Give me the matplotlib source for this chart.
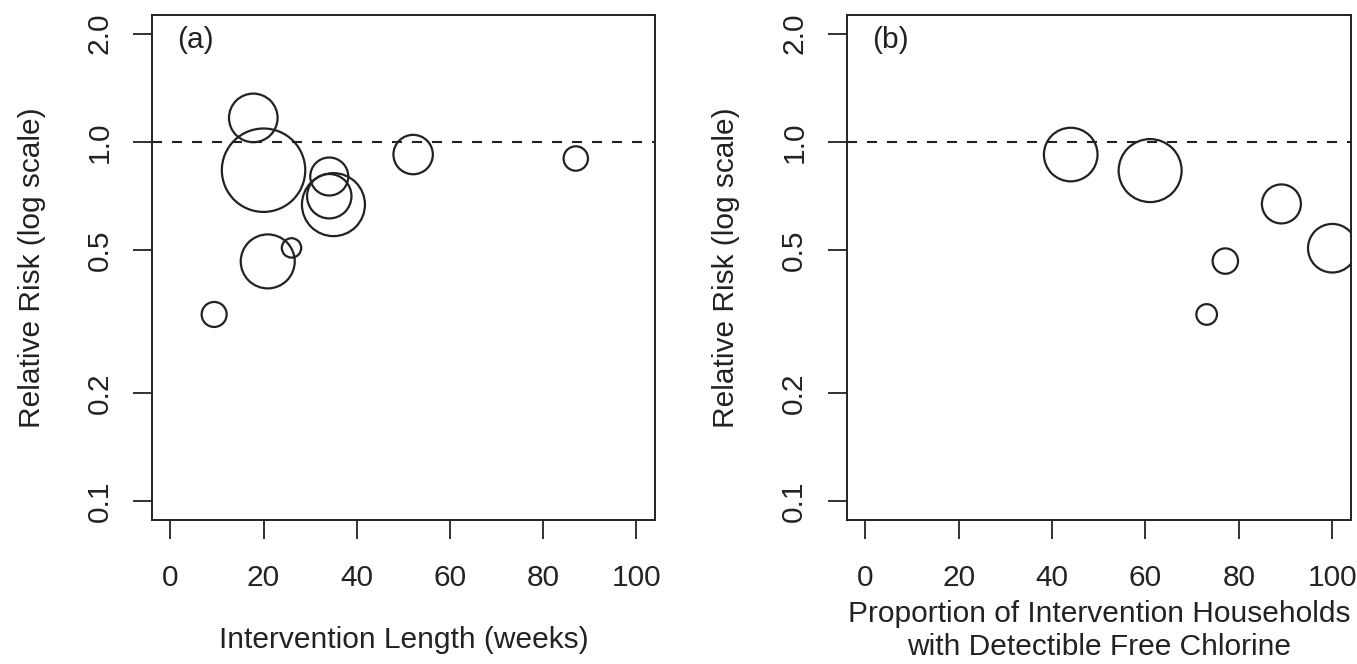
import numpy as np
import matplotlib
matplotlib.use("Agg")
import matplotlib.pyplot as plt
from matplotlib.ticker import FixedLocator, FixedFormatter, NullLocator

plt.rcParams['font.family'] = ['Liberation Sans', 'DejaVu Sans']

# panel (a): intervention length vs relative risk
weeks = [17.8, 20.0, 34.1, 34.1, 35.0, 52.1, 20.9, 26.0, 9.4, 87.0]
rr_a = [1.166, 0.834, 0.801, 0.706, 0.669, 0.922, 0.465, 0.507, 0.331, 0.899]
radius_a = [24.3, 41.7, 19.0, 22.2, 31.5, 19.7, 27.0, 9.7, 12.5, 12.2]

# panel (b): % households with detectable free chlorine vs relative risk
chlorine = [44.0, 61.0, 89.1, 100.0, 77.1, 73.1]
rr_b = [0.922, 0.832, 0.672, 0.506, 0.466, 0.331]
radius_b = [26.8, 31.5, 19.5, 24.3, 12.7, 10.3]

y_ticks = [0.1, 0.2, 0.5, 1.0, 2.0]
y_tick_labels = ["0.1", "0.2", "0.5", "1.0", "2.0"]
x_ticks = [0, 20, 40, 60, 80, 100]

ink = '#222222'
fs = 21.5
W, H = 1357, 664
fig = plt.figure(figsize=(W / 100, H / 100), dpi=100)

ax_a = fig.add_axes([151.7 / W, (H - 520) / H, 503.3 / W, 505 / H])
ax_b = fig.add_axes([846.5 / W, (H - 520) / H, 504.5 / W, 505 / H])


def draw_panel(ax, x, y, radius, tag, xlabel, xlabel_y):
    s = [(1.44 * r) ** 2 for r in radius]
    ax.scatter(x, y, s=s, facecolors='none', edgecolors=ink, linewidths=1.6, zorder=3)
    ax.axhline(1.0, color=ink, lw=1.5, dashes=(4.8, 4.8), zorder=2)
    ax.set_yscale('log')
    ax.set_xlim(-4, 104)
    ax.set_ylim(10 ** -1.052, 10 ** 0.353)
    ax.yaxis.set_major_locator(FixedLocator(y_ticks))
    ax.yaxis.set_major_formatter(FixedFormatter(y_tick_labels))
    ax.yaxis.set_minor_locator(NullLocator())
    ax.set_xticks(x_ticks)
    ax.set_xticklabels([str(t) for t in x_ticks])
    for sp in ax.spines.values():
        sp.set_linewidth(1.4)
        sp.set_color(ink)
    ax.tick_params(axis='both', direction='out', length=13.5, width=1.3,
                   color=ink, labelcolor=ink, labelsize=fs)
    ax.tick_params(axis='x', pad=18)
    ax.tick_params(axis='y', pad=14)
    for lab in ax.get_yticklabels():
        lab.set_rotation(90)
        lab.set_va('center')
    ax.text(0.05, 0.95, tag, transform=ax.transAxes, ha='left', va='center',
            fontsize=fs, color=ink)
    ax.text(-0.238, 0.5, "Relative Risk (log scale)", transform=ax.transAxes,
            rotation=90, ha='center', va='center', fontsize=fs, color=ink)
    ax.text(0.5, xlabel_y, xlabel, transform=ax.transAxes, ha='center',
            va='center', fontsize=fs, color=ink, linespacing=1.22)


draw_panel(ax_a, weeks, rr_a, radius_a, "(a)", "Intervention Length (weeks)", -0.238)
draw_panel(ax_b, chlorine, rr_b, radius_b, "(b)",
           "Proportion of Intervention Households\nwith Detectible Free Chlorine", -0.218)

fig.savefig('out.png', dpi=100)
